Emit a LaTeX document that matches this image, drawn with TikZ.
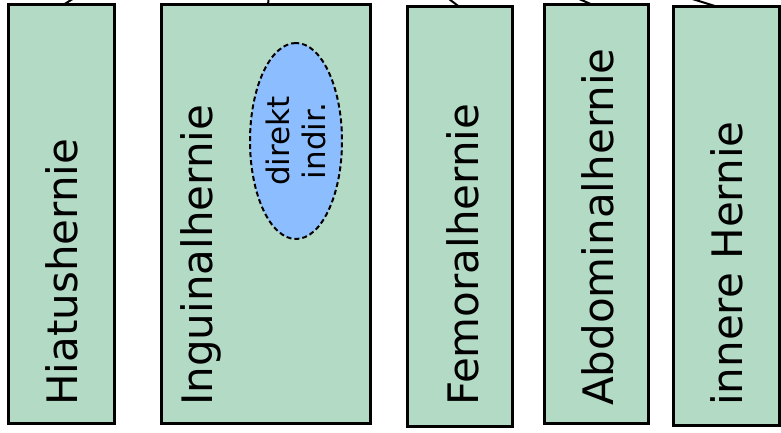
\documentclass[tikz,border=0pt]{standalone}
\usepackage{fontspec}
\setmainfont{DejaVu Sans}
\usetikzlibrary{shapes.geometric}
\definecolor{boxgreen}{RGB}{179,218,197}
\definecolor{ellblue}{RGB}{140,190,255}
\begin{document}
\begin{tikzpicture}[x=1pt,y=-1pt,
  hbox/.style={draw=black,line width=3pt,fill=boxgreen,rectangle,inner sep=0pt,outer sep=0pt},
  hlabel/.style={rotate=90,anchor=base west,inner sep=0pt,font=\fontsize{42}{50}\selectfont},
  sub/.style={ellipse,draw=black,dash pattern=on 5pt off 3pt,line width=2pt,fill=ellblue,rotate=90,
    minimum width=196pt,minimum height=92pt,inner sep=0pt,align=center,font=\fontsize{31}{36}\selectfont},
  link/.style={draw=black,line width=2pt}]
\useasboundingbox (0,0) rectangle (781,433);
\clip (0,0) rectangle (781,433);
\coordinate (top) at (280,-130);
% boxes
\node[hbox,minimum width=106pt,minimum height=418pt] (b1) at (61,214) {};
\node[hbox,minimum width=209pt,minimum height=418pt] (b2) at (265.5,214) {};
\node[hbox,minimum width=105pt,minimum height=419pt] (b3) at (459.5,216.5) {};
\node[hbox,minimum width=104pt,minimum height=418pt] (b4) at (596,214) {};
\node[hbox,minimum width=106pt,minimum height=418pt] (b5) at (726,216) {};
% connectors from the parent above the frame
\draw[link] (top) -- ([xshift=2pt]b1.north);
\draw[link] (top) -- ([xshift=2.5pt]b2.north);
\draw[link] (top) -- ([xshift=0pt]b3.north);
\draw[link] (top) -- ([xshift=-3pt]b4.north);
\draw[link] (top) -- ([xshift=-8pt]b5.north);
% labels
\node[hlabel] (l1) at (77,406) {Hiatushernie};
\node[hlabel] (l2) at (212,406) {Inguinalhernie};
\node[hlabel] (l3) at (478,406) {Femoralhernie};
\node[hlabel] (l4) at (613,406) {Abdominalhernie};
\node[hlabel] (l5) at (742,406) {innere Hernie};
% sub types
\node[sub] (e) at (296,141) {direkt\\indir.};
\end{tikzpicture}
\end{document}
